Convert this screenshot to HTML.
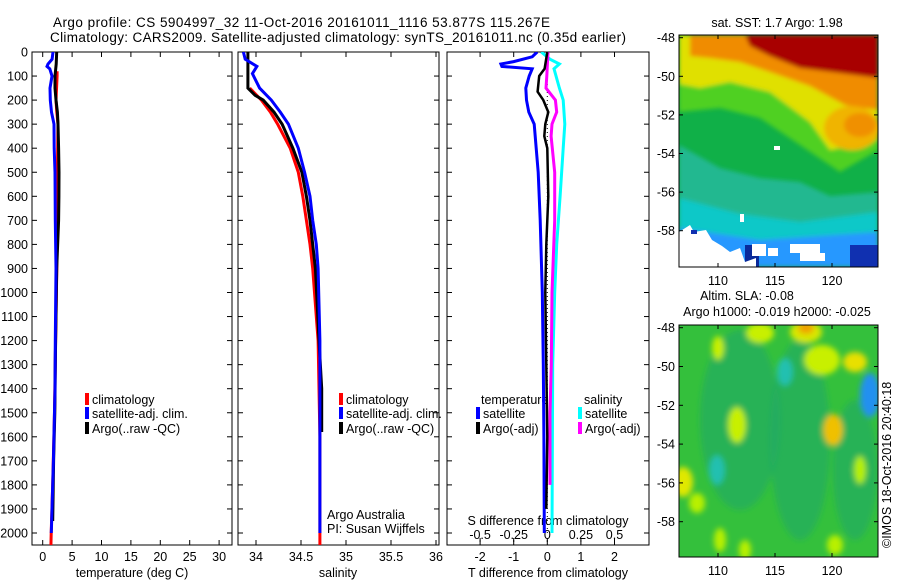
<!DOCTYPE html>
<html><head><meta charset="utf-8"><style>
html,body{margin:0;padding:0;background:#fff;}
svg text{font-family:"Liberation Sans",sans-serif;fill:#000;}
</style></head><body>
<svg id="fig" width="900" height="580" viewBox="0 0 900 580" xmlns="http://www.w3.org/2000/svg">
<defs>
<clipPath id="c1"><rect x="32" y="52" width="200" height="493"/></clipPath>
<clipPath id="c2"><rect x="238" y="52" width="201" height="493"/></clipPath>
<clipPath id="c3"><rect x="447" y="52" width="202" height="493"/></clipPath>
<clipPath id="cm1"><rect x="679" y="35" width="199" height="232"/></clipPath>
<clipPath id="cm2"><rect x="679" y="325" width="199" height="232"/></clipPath>
<filter id="bl" x="-20%" y="-20%" width="140%" height="140%"><feGaussianBlur stdDeviation="2"/></filter>
<filter id="bl2" x="-50%" y="-50%" width="200%" height="200%"><feGaussianBlur stdDeviation="3"/></filter>
</defs>
<text x="53" y="27" font-size="13.5" textLength="497">Argo profile: CS 5904997_32 11-Oct-2016 20161011_1116 53.877S 115.267E</text>
<text x="50" y="42" font-size="13.5" textLength="576">Climatology: CARS2009. Satellite-adjusted climatology: synTS_20161011.nc (0.35d earlier)</text>

<!-- top map: SST -->
<g clip-path="url(#cm1)">
<rect x="679" y="35" width="199" height="232" fill="#10b048"/>
<g filter="url(#bl)">
<polygon fill="#50d020" points="679,35 878,35 878,150 840,172 800,145 760,118 720,108 679,112"/>
<polygon fill="#e0e000" points="679,35 878,35 878,140 830,150 810,122 770,92 730,82 700,88 679,84"/>
<polygon fill="#f08c00" points="690,35 878,35 878,110 845,105 810,86 770,72 740,62 710,58 690,56"/>
<ellipse cx="852" cy="128" rx="28" ry="22" fill="#f0b400"/>
<ellipse cx="860" cy="125" rx="16" ry="12" fill="#f09000"/>
<polygon fill="#a80000" points="745,35 878,35 878,78 840,73 800,68 770,56 750,46"/>
<polygon fill="#20b890" points="679,145 720,168 760,178 800,182 830,196 878,192 878,267 679,267"/>
<polygon fill="#10c8c8" points="679,198 740,214 800,222 878,212 878,267 679,267"/>
<polygon fill="#2898ff" points="679,228 760,240 878,232 878,267 679,267"/>
</g>
<rect x="850" y="245" width="28" height="22" fill="#1030b0"/>
<rect x="745" y="245" width="14" height="22" fill="#0a2a9a"/>
<polygon fill="#fff" points="679,232 690,225 694,232 706,230 712,240 722,246 730,252 740,248 745,262 756,258 756,267 679,267"/>
<rect x="691" y="230" width="6" height="4" fill="#1030b0"/>
<rect x="752" y="244" width="14" height="12" fill="#fff"/>
<rect x="768" y="248" width="10" height="8" fill="#fff"/>
<rect x="790" y="244" width="30" height="9" fill="#fff"/>
<rect x="800" y="253" width="25" height="8" fill="#fff"/>
<rect x="774" y="146" width="6" height="4" fill="#fff"/>
<rect x="740" y="214" width="4" height="8" fill="#fff"/>
</g>
<rect x="679" y="35" width="199" height="232" fill="none" stroke="#000" stroke-width="1"/>
<text x="777" y="27" font-size="12.5" text-anchor="middle">sat. SST: 1.7 Argo: 1.98</text>

<!-- bottom map: SLA -->
<g clip-path="url(#cm2)">
<rect x="679" y="325" width="199" height="232" fill="#34c03c"/>
<g filter="url(#bl2)">
<ellipse cx="740" cy="420" rx="40" ry="90" fill="#22a868" opacity="0.6"/>
<ellipse cx="800" cy="440" rx="30" ry="100" fill="#22a868" opacity="0.6"/>
<ellipse cx="855" cy="470" rx="22" ry="70" fill="#22a868" opacity="0.6"/>
<ellipse cx="785" cy="372" rx="8" ry="14" fill="#20c0b0"/>
<ellipse cx="717" cy="470" rx="8" ry="15" fill="#20c0b0"/>
<ellipse cx="870" cy="395" rx="10" ry="22" fill="#2090f0"/>
<ellipse cx="760" cy="333" rx="14" ry="10" fill="#c8f000"/>
<ellipse cx="806" cy="332" rx="16" ry="11" fill="#d8e800"/>
<ellipse cx="806" cy="328" rx="8" ry="6" fill="#f0a000"/>
<ellipse cx="718" cy="348" rx="6" ry="12" fill="#c8f000"/>
<ellipse cx="822" cy="360" rx="18" ry="15" fill="#c8f000"/>
<ellipse cx="855" cy="362" rx="12" ry="10" fill="#e8e000"/>
<ellipse cx="737" cy="425" rx="9" ry="18" fill="#c8f000"/>
<ellipse cx="833" cy="430" rx="10" ry="16" fill="#f0c000"/>
<ellipse cx="683" cy="482" rx="10" ry="15" fill="#e0e800"/>
<ellipse cx="697" cy="503" rx="8" ry="10" fill="#b8f000"/>
<ellipse cx="720" cy="540" rx="6" ry="12" fill="#b8f000"/>
<ellipse cx="745" cy="550" rx="6" ry="10" fill="#b8f000"/>
<ellipse cx="835" cy="545" rx="8" ry="10" fill="#b8f000"/>
<ellipse cx="860" cy="470" rx="6" ry="14" fill="#b8f000"/>
</g>
</g>
<rect x="679" y="325" width="199" height="232" fill="none" stroke="#000" stroke-width="1"/>
<text x="747" y="300" font-size="12.5" text-anchor="middle">Altim. SLA: -0.08</text>
<text x="777" y="316" font-size="12.5" text-anchor="middle">Argo h1000: -0.019 h2000: -0.025</text>
<text font-size="12.5" transform="translate(891,548) rotate(-90)">©IMOS 18-Oct-2016 20:40:18</text>

<g id="plots"></g>
</svg>
<script>
// ---- data ----
const depthTicks=[0,100,200,300,400,500,600,700,800,900,1000,1100,1200,1300,1400,1500,1600,1700,1800,1900,2000];
const tempTicks=[0,5,10,15,20,25,30];
const salTicks=[34,34.5,35,35.5,36];
const tDiffTicks=[-2,-1,0,1,2];
const sDiffTicks=[-0.5,-0.25,0,0.25,0.5];
const sDiffTickLabels=["-0.5","-0.25","0","0.25","0.5"];
const latTicks=[-48,-50,-52,-54,-56,-58];
const lonTicks=[110,115,120];

const tempClimDepth=[80,100,200,250,300,400,600,900,1200,1500,1800,2000,2055];
const tempClim=[2.45,2.45,2.26,2.4,2.6,2.55,2.45,2.4,2.2,2.0,1.7,1.45,1.4];
const tempSatDepth=[0,30,50,60,70,100,150,200,250,300,400,500,700,900,1200,1400,1700,2000];
const tempSat=[1.75,1.6,0.9,0.73,1.2,1.58,1.24,1.3,1.5,1.92,1.95,2.09,2.15,2.26,2.15,2.1,1.82,1.46];
const tempArgoDepth=[0,50,100,150,200,250,300,400,500,600,700,900,1200,1500,1700,1950];
const tempArgo=[2.38,2.3,2.09,2.1,2.26,2.5,2.6,2.7,2.77,2.75,2.7,2.38,2.2,2.05,1.85,1.7];

const salClimDepth=[150,200,250,300,400,500,600,700,800,900,1200,1600,2055];
const salClim=[33.93,34.06,34.16,34.24,34.38,34.47,34.52,34.56,34.6,34.63,34.69,34.71,34.71];
const salSatDepth=[0,30,60,90,150,200,250,300,400,500,600,700,800,900,1200,1600,2000];
const salSat=[33.86,33.88,34.01,33.96,34.04,34.17,34.27,34.36,34.47,34.54,34.6,34.63,34.67,34.69,34.71,34.71,34.71];
const salArgoDepth=[0,150,180,200,250,300,400,500,600,700,800,900,1200,1400,1580];
const salArgo=[33.91,33.91,33.99,34.08,34.2,34.29,34.41,34.51,34.56,34.6,34.63,34.66,34.7,34.73,34.73];

const dTSatDepth=[0,20,40,50,60,70,100,150,200,250,300,400,500,700,1000,1300,1600,2000];
const dTSat=[-0.3,-0.45,-1.0,-1.38,-1.35,-0.45,-0.54,-0.64,-0.62,-0.55,-0.39,-0.33,-0.27,-0.21,-0.15,-0.12,-0.1,-0.09];
const dTArgoDepth=[0,70,100,165,200,250,300,350,400,600,800,1000,1300,1600,1900];
const dTArgo=[0,-0.08,-0.24,-0.29,-0.12,0.03,-0.06,-0.09,0,0.03,-0.03,-0.06,-0.03,0,-0.03];
const dSSatDepth=[0,30,50,70,150,200,300,400,600,800,1000,1300,2000];
const dSSat=[-0.045,0.02,0.09,0.05,0.09,0.118,0.13,0.118,0.095,0.07,0.055,0.04,0.035];
const dSArgoDepth=[0,100,150,200,250,300,350,500,700,1000,1300,1500,1800];
const dSArgo=[0.005,-0.004,-0.01,0.06,0.07,0.035,0.028,0.055,0.055,0.035,0.03,0.02,0.02];

// ---- scales ----
const NS="http://www.w3.org/2000/svg";
const yD=d=>52+d*0.2405;
const xT=t=>42.7+t*5.88;
const xS=s=>256+(s-34)*90;
const xDT=t=>547.3+t*33.6;
const xDS=s=>547.3+s*134.4;
const yLat1=l=>37.7+(-48-l)*19.3;
const yLat2=l=>327.7+(-48-l)*19.4;
const xLon=l=>718+(l-110)*11.4;
const root=document.getElementById('plots');
function el(tag,attrs,parent){const e=document.createElementNS(NS,tag);for(const k in attrs)e.setAttribute(k,attrs[k]);(parent||root).appendChild(e);return e;}
function txt(s,x,y,size,anchor,parent){const t=el('text',{x:x,y:y,'font-size':size,'text-anchor':anchor||'start'},parent);t.textContent=s;return t;}

function panel(x,w,name){
  const g=el('g',{});
  
  
  const r=el('rect',{x:x,y:52,width:w,height:493,fill:'none',stroke:'#000','stroke-width':1},g);
  
  
  depthTicks.forEach(d=>{el('line',{x1:x,x2:x+5,y1:yD(d),y2:yD(d),stroke:'#000'},g);el('line',{x1:x+w-5,x2:x+w,y1:yD(d),y2:yD(d),stroke:'#000'},g);});
  return g;
}
function series(xs,ds,sc,color,clip,name,width){
  const pts=xs.map((v,i)=>sc(v).toFixed(1)+','+yD(ds[i]).toFixed(1)).join(' ');
  const p=el('polyline',{points:pts,fill:'none',stroke:color,'stroke-width':width||3,'clip-path':'url(#'+clip+')','stroke-linejoin':'miter'});
  
  
}
function xticks(g,ticks,sc,labels){
  ticks.forEach((t,i)=>{const x=sc(t);el('line',{x1:x,x2:x,y1:52,y2:57,stroke:'#000'},g);el('line',{x1:x,x2:x,y1:540,y2:545,stroke:'#000'},g);
   const lab=txt(labels?labels[i]:String(t),x,561,12.5,'middle',g);
   
   });
}
function legend(x,y,color,label,g){
  el('rect',{x:x,y:y-11,width:4,height:12,fill:color},g);
  const t=txt(label,x+7,y,12.5,'start',g);
  
  
}

// panel 1
const g1=panel(32,200,'temperature-panel');
depthTicks.forEach(d=>{const t=txt(String(d),28,yD(d)+4.5,12.5,'end',g1);
 
 });
xticks(g1,tempTicks,xT);
const xt1=txt('temperature (deg C)',132,577,12.5,'middle',g1);


series(tempClim,tempClimDepth,xT,'#ff0000','c1','temp-climatology-line');
series(tempArgo,tempArgoDepth,xT,'#000000','c1','temp-argo-line');
series(tempSat,tempSatDepth,xT,'#0000ff','c1','temp-satellite-line');
legend(85,404,'#ff0000','climatology',g1);
legend(85,418,'#0000ff','satellite-adj. clim.',g1);
legend(85,433,'#000000','Argo(..raw -QC)',g1);

// panel 2
const g2=panel(238,201,'salinity-panel');
xticks(g2,salTicks,xS);
const xt2=txt('salinity',338,577,12.5,'middle',g2);


series(salClim,salClimDepth,xS,'#ff0000','c2','sal-climatology-line');
series(salArgo,salArgoDepth,xS,'#000000','c2','sal-argo-line');
series(salSat,salSatDepth,xS,'#0000ff','c2','sal-satellite-line');
legend(339,404,'#ff0000','climatology',g2);
legend(339,418,'#0000ff','satellite-adj. clim.',g2);
legend(339,433,'#000000','Argo(..raw -QC)',g2);
const aa=txt('Argo Australia',327,519,12.5,'start',g2);


const pi=txt('PI: Susan Wijffels',327,533,12.5,'start',g2);



// panel 3
const g3=panel(447,202,'difference-panel');
xticks(g3,tDiffTicks,xDT);
const xt3=txt('T difference from climatology',548,577,12.5,'middle',g3);


const st=txt('S difference from climatology',548,525,12.5,'middle',g3);


sDiffTicks.forEach((s,i)=>{const x=xDS(s);el('line',{x1:x,x2:x,y1:538,y2:542,stroke:'#000'},g3);
 const t=txt(sDiffTickLabels[i],x,539,12.5,'middle',g3);
 
 });
const zl=el('line',{x1:xDT(0),x2:xDT(0),y1:yD(0),y2:yD(2000),stroke:'#000','stroke-width':1,'stroke-dasharray':'1,3'},g3);


series(dTSat,dTSatDepth,xDT,'#0000ff','c3','t-diff-satellite-line');
series(dSSat,dSSatDepth,xDS,'#00ffff','c3','s-diff-satellite-line');
series(dSArgo,dSArgoDepth,xDS,'#ff00ff','c3','s-diff-argo-line');
series(dTArgo,dTArgoDepth,xDT,'#000000','c3','t-diff-argo-line',2.5);
const lt=txt('temperature',481,404,12.5,'start',g3);


const ls=txt('salinity',584,404,12.5,'start',g3);


legend(476,418,'#0000ff','satellite',g3);
legend(476,433,'#000000','Argo(-adj)',g3);
legend(578,418,'#00ffff','satellite',g3);
legend(578,433,'#ff00ff','Argo(-adj)',g3);

// map axes
function mapAxes(yLat,top,bottom,labY,name){
  const g=el('g',{});
  
  
  latTicks.forEach(l=>{const y=yLat(l);el('line',{x1:679,x2:683,y1:y,y2:y,stroke:'#000'},g);el('line',{x1:874,x2:878,y1:y,y2:y,stroke:'#000'},g);
   const t=txt(String(l),675,y+4.5,12.5,'end',g);
   
   });
  lonTicks.forEach(l=>{const x=xLon(l);el('line',{x1:x,x2:x,y1:top,y2:top+4,stroke:'#000'},g);el('line',{x1:x,x2:x,y1:bottom-4,y2:bottom,stroke:'#000'},g);
   const t=txt(String(l),x,labY,12.5,'middle',g);
   
   });
}
mapAxes(yLat1,35,267,285,'sst-map-axes');
mapAxes(yLat2,325,557,575,'sla-map-axes');
</script>
</body></html>
